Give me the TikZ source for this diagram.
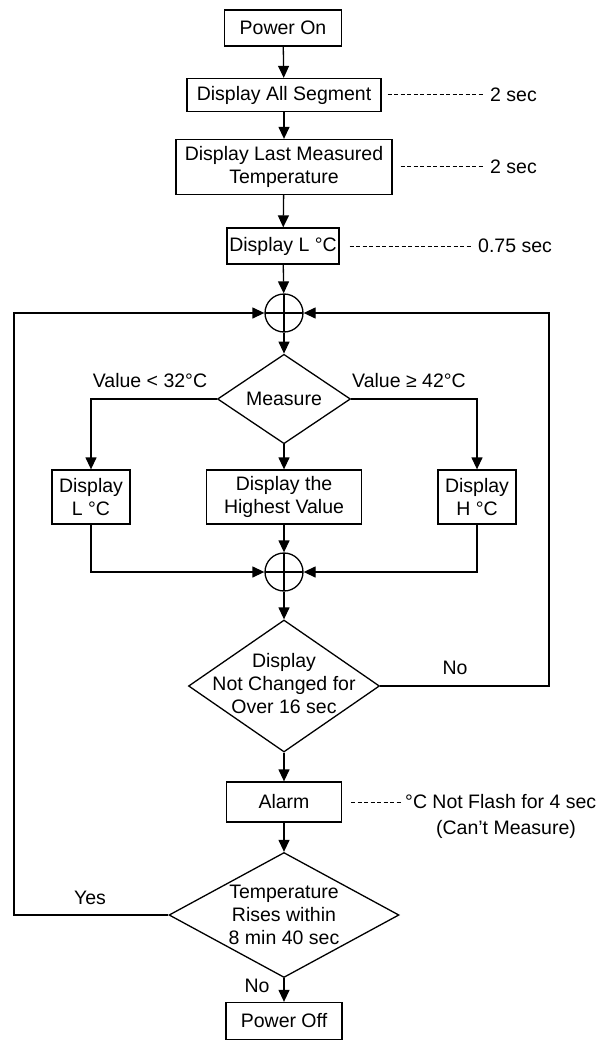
\documentclass[tikz,border=0pt]{standalone}
\usepackage{fontspec}
\setmainfont{Liberation Sans}
\usetikzlibrary{shapes.geometric, arrows.meta}
\tikzset{
  >={Triangle[length=12pt,width=11pt]},
  every node/.style={font=\fontsize{19.5}{23}\selectfont},
  box/.style 2 args={draw, line width=1.3pt, inner sep=0pt, align=center,
    minimum width=#1, minimum height=#2},
  dec/.style 2 args={draw, diamond, line width=1.3pt, inner sep=0pt,
    minimum width=#1, minimum height=#2},
  junc/.style={draw, circle, line width=1.3pt, minimum size=38pt, inner sep=0pt,
    path picture={\draw[line width=1.3pt]
      (path picture bounding box.north) -- (path picture bounding box.south)
      (path picture bounding box.west) -- (path picture bounding box.east);}},
  flow/.style={->, line width=1.3pt},
  note/.style={dash pattern=on 4pt off 2.5pt, line width=1pt},
  txt/.style={inner sep=2pt, align=center},
}

\begin{document}
\begin{tikzpicture}[x=1pt, y=-1pt]
  \useasboundingbox (0,0) rectangle (600,1043);

  % main column
  \node[box={117pt}{36pt}] (on) at (283,28) {Power On};
  \node[box={194pt}{33pt}] (seg) at (284,95) {Display All Segment};
  \node[box={216pt}{55pt}] (last) at (284,167) {Display Last Measured\\Temperature};
  \node[box={112pt}{36pt}] (lc) at (283,246) {Display L °C};
  \node[junc] (j1) at (284,313) {};
  \node[dec={133pt}{77pt}] (meas) at (284,399) {Measure};
  \node[box={78pt}{54pt}] (lo) at (91,497) {Display\\L °C};
  \node[box={155pt}{54pt}] (high) at (284,497) {Display the\\Highest Value};
  \node[box={78pt}{54pt}] (hi) at (477,497) {Display\\H °C};
  \node[junc] (j2) at (284,572) {};
  \node[dec={191pt}{132pt}] (chk) at (284,686) {};
  \node[txt] (chkt) at (284,684) {Display\\Not Changed for\\Over 16 sec};
  \node[box={115pt}{40pt}] (alarm) at (284,802) {Alarm};
  \node[dec={230pt}{125pt}] (rise) at (284,915) {};
  \node[txt] (riset) at (284,915) {Temperature\\Rises within\\8 min 40 sec};
  \node[box={116pt}{37pt}] (off) at (284,1021) {Power Off};

  \coordinate (lft) at (14,313);
  \coordinate (rgt) at (549,313);

  % timing notes
  \node[txt, anchor=west] (n1) at (488,95) {2 sec};
  \node[txt, anchor=west] (n2) at (488,167) {2 sec};
  \node[txt, anchor=west] (n3) at (476,246) {0.75 sec};
  \node[txt, anchor=west] (n4) at (403,802) {°C Not Flash for 4 sec};
  \node[txt] (n5) at (506,829) {(Can't Measure)};

  % branch labels
  \node[txt] (vlo) at (150,381) {Value < 32°C};
  \node[txt] (vhi) at (409,381) {Value ≥ 42°C};
  \node[txt] (no1) at (455,668) {No};
  \node[txt] (yes) at (90,898) {Yes};
  \node[txt] (no2) at (257,986) {No};

  \draw[flow] (on) -- (seg);
  \draw[flow] (seg) -- (last);
  \draw[flow] (last) -- (lc);
  \draw[flow] (lc) -- (j1);
  \draw[flow] (j1) -- (meas);
  \draw[flow] (meas.west) -| (lo);
  \draw[flow] (meas.east) -| (hi);
  \draw[flow] (meas) -- (high);
  \draw[flow] (lo) |- (j2);
  \draw[flow] (hi) |- (j2);
  \draw[flow] (high) -- (j2);
  \draw[flow] (j2) -- (chk);
  \draw[flow] (chk.east) -| (rgt) -- (j1.east);
  \draw[flow] (chk) -- (alarm);
  \draw[flow] (alarm) -- (rise);
  \draw[flow] (rise.west) -| (lft) -- (j1.west);
  \draw[flow] (rise) -- (off);

  \draw[note] ([xshift=6pt]seg.east) -- ([xshift=-3pt]n1.west);
  \draw[note] ([xshift=8pt]last.east) -- ([xshift=-3pt]n2.west);
  \draw[note] ([xshift=10pt]lc.east) -- ([xshift=-4pt]n3.west);
  \draw[note] ([xshift=9pt]alarm.east) -- (n4.west);
\end{tikzpicture}
\end{document}
